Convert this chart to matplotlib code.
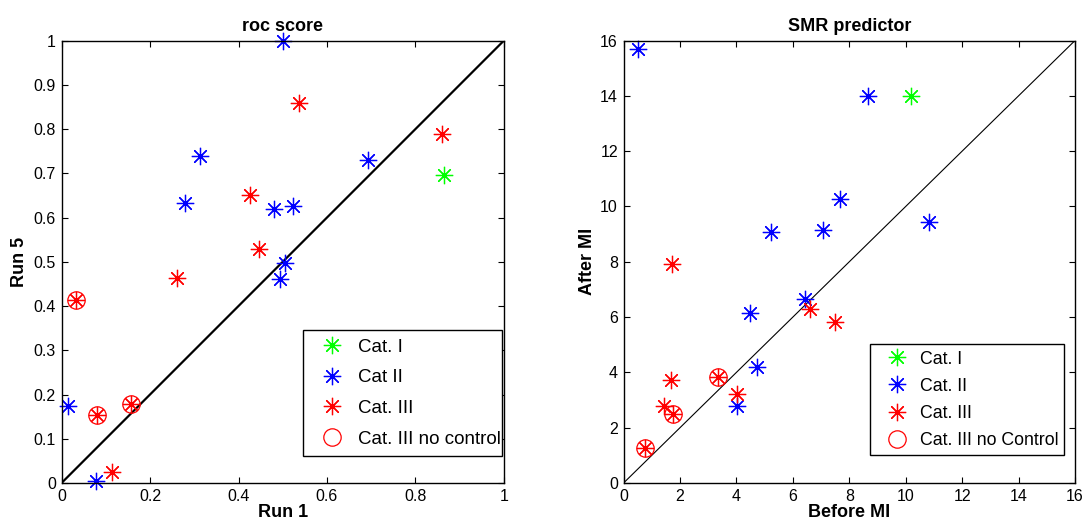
"""roc score / SMR predictor scatter: run 1 vs run 5 and before vs after MI"""

import numpy as np
import matplotlib
matplotlib.use('Agg')
import matplotlib.pyplot as plt

plt.rcParams['font.family'] = ['Liberation Sans', 'DejaVu Sans']

# roc score data (Run 1, Run 5)
rocCat1X = [0.865]
rocCat1Y = [0.697]
rocCat2X = [0.501, 0.312, 0.280, 0.480, 0.524, 0.692, 0.505, 0.493, 0.015, 0.079]
rocCat2Y = [1.000, 0.739, 0.633, 0.620, 0.625, 0.730, 0.497, 0.461, 0.173, 0.004]
rocCat3X = [0.537, 0.859, 0.427, 0.446, 0.261, 0.114, 0.032, 0.081, 0.157]
rocCat3Y = [0.859, 0.789, 0.651, 0.528, 0.463, 0.026, 0.413, 0.153, 0.179]
rocNoCtrlX = [0.032, 0.081, 0.157]
rocNoCtrlY = [0.413, 0.153, 0.179]

# SMR predictor data (before MI, after MI)
smrCat1X = [10.17]
smrCat1Y = [14.00]
smrCat2X = [0.50, 8.65, 7.68, 10.81, 5.23, 7.07, 6.43, 4.47, 4.74, 4.01]
smrCat2Y = [15.69, 14.00, 10.28, 9.43, 9.07, 9.16, 6.65, 6.14, 4.21, 2.78]
smrCat3X = [1.70, 6.61, 7.51, 1.67, 4.01, 1.42, 3.35, 1.75, 0.77]
smrCat3Y = [7.91, 6.30, 5.82, 3.71, 3.23, 2.80, 3.82, 2.51, 1.27]
smrNoCtrlX = [3.35, 1.75, 0.77]
smrNoCtrlY = [3.82, 2.51, 1.27]

rocTicksX = [0, 0.2, 0.4, 0.6, 0.8, 1]
rocTickLabelsX = ['0', '0.2', '0.4', '0.6', '0.8', '1']
rocTicksY = [0, 0.1, 0.2, 0.3, 0.4, 0.5, 0.6, 0.7, 0.8, 0.9, 1]
rocTickLabelsY = ['0', '0.1', '0.2', '0.3', '0.4', '0.5', '0.6', '0.7', '0.8', '0.9', '1']
smrTicks = [0, 2, 4, 6, 8, 10, 12, 14, 16]

ast = (8, 2, 0)     # matlab style asterisk (8 spokes)
green = '#00ff00'
blue = '#0000ff'
red = '#ff0000'
mk = dict(ls='none', ms=12.5, mew=0.9, clip_on=False)   # common marker settings


def styleAxes(ax):
    """matlab look: box, inward ticks on all sides"""
    ax.tick_params(direction='in', top=True, right=True, length=4, width=0.8,
                   labelsize=11.5, pad=4)
    for sp in ax.spines.values():
        sp.set_linewidth(1.0)


fig = plt.figure(figsize=(10.85, 5.24), dpi=100)
ax1 = fig.add_axes([0.0567, 0.0782, 0.4078, 0.8445])
ax2 = fig.add_axes([0.5747, 0.0782, 0.4161, 0.8445])

# left: roc score
ax1.plot([0, 1], [0, 1], color='k', lw=1.6, zorder=1)
ax1.plot(rocCat1X, rocCat1Y, marker=ast, mec=green, label='Cat. I', **mk)
ax1.plot(rocCat2X, rocCat2Y, marker=ast, mec=blue, label='Cat II', **mk)
ax1.plot(rocCat3X, rocCat3Y, marker=ast, mec=red, label='Cat. III', **mk)
ax1.plot(rocNoCtrlX, rocNoCtrlY, marker='o', mfc='none', mec=red, label='Cat. III no control', **mk)
ax1.set_xlim(0, 1)
ax1.set_ylim(0, 1)
ax1.set_xticks(rocTicksX)
ax1.set_xticklabels(rocTickLabelsX)
ax1.set_yticks(rocTicksY)
ax1.set_yticklabels(rocTickLabelsY)
ax1.set_title('roc score', fontsize=13, fontweight='bold', pad=7)
ax1.set_xlabel('Run 1', fontsize=13, fontweight='bold', labelpad=0)
ax1.set_ylabel('Run 5', fontsize=13, fontweight='bold', labelpad=4)
styleAxes(ax1)
leg1 = ax1.legend(loc='lower left', bbox_to_anchor=(0.546, 0.061, 0.449, 0.278), mode='expand',
                  fontsize=13.5, labelspacing=0.72, borderpad=0.45, handlelength=2.2,
                  handletextpad=0.3, borderaxespad=0, numpoints=1, fancybox=False,
                  framealpha=1, edgecolor='k')
leg1.get_frame().set_linewidth(1.0)

# right: SMR predictor
ax2.plot([0, 16], [0, 16], color='k', lw=0.8, zorder=1)
ax2.plot(smrCat1X, smrCat1Y, marker=ast, mec=green, label='Cat. I', **mk)
ax2.plot(smrCat2X, smrCat2Y, marker=ast, mec=blue, label='Cat. II', **mk)
ax2.plot(smrCat3X, smrCat3Y, marker=ast, mec=red, label='Cat. III', **mk)
ax2.plot(smrNoCtrlX, smrNoCtrlY, marker='o', mfc='none', mec=red, label='Cat. III no Control', **mk)
ax2.set_xlim(0, 16)
ax2.set_ylim(0, 16)
ax2.set_xticks(smrTicks)
ax2.set_yticks(smrTicks)
ax2.set_title('SMR predictor', fontsize=13, fontweight='bold', pad=7)
ax2.set_xlabel('Before MI', fontsize=13, fontweight='bold', labelpad=0)
ax2.set_ylabel('After MI', fontsize=13, fontweight='bold', labelpad=3)
styleAxes(ax2)
leg2 = ax2.legend(loc='lower left', bbox_to_anchor=(0.546, 0.063, 0.43, 0.24), mode='expand',
                  fontsize=12.8, labelspacing=0.57, borderpad=0.35, handlelength=2.3,
                  handletextpad=0.18, borderaxespad=0, numpoints=1, fancybox=False,
                  framealpha=1, edgecolor='k')
leg2.get_frame().set_linewidth(1.0)

fig.savefig('out.png', dpi=100)
